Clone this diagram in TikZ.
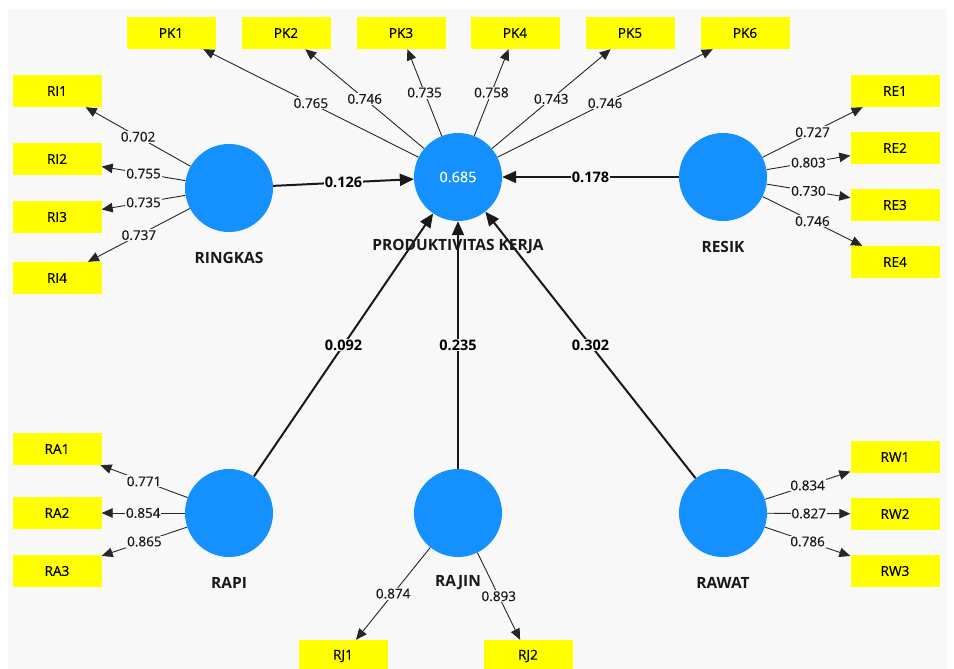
\documentclass[tikz,border=0pt]{standalone}
\usepackage{fontspec}
\setmainfont{Open Sans}
\newfontfamily\medfont[FakeBold=0.5]{Open Sans}
\usetikzlibrary{arrows.meta}
\definecolor{bg}{HTML}{F8F8F8}
\definecolor{lv}{HTML}{1590FF}
\definecolor{ind}{HTML}{FFFF00}
\begin{document}
\begin{tikzpicture}[x=1pt,y=-1pt,
  indbox/.style={fill=ind, minimum width=89pt, minimum height=32pt, inner sep=0pt, font=\medfont\fontsize{13.6}{15}\selectfont, text=black},
  latent/.style={circle, fill=lv, minimum size=88pt, inner sep=0pt},
  lvlabel/.style={font=\bfseries\fontsize{15.5}{17}\selectfont, text=black!90},
  load/.style={-{Triangle[length=11pt,width=9.5pt]}, line width=0.9pt, draw=black!85},
  pathc/.style={-{Triangle[length=14pt,width=12pt]}, line width=2pt, draw=black!90},
  lval/.style={fill=bg, inner sep=1pt, font=\medfont\fontsize{13.5}{15}\selectfont, text=black!90},
  pval/.style={fill=bg, inner sep=1pt, font=\bfseries\fontsize{14.5}{16}\selectfont, text=black}
]
\useasboundingbox (0,0) rectangle (954,669);
\fill[white] (0,0) rectangle (954,669);
\fill[bg] (8,9) rectangle (947,669);

% indicators
\node[indbox] (pk1) at (171,33) {PK1};
\node[indbox] (pk2) at (286,33) {PK2};
\node[indbox] (pk3) at (401,33) {PK3};
\node[indbox] (pk4) at (515,33) {PK4};
\node[indbox] (pk5) at (630,33) {PK5};
\node[indbox] (pk6) at (745,33) {PK6};
\node[indbox] (ri1) at (57,91) {RI1};
\node[indbox] (ri2) at (57,159) {RI2};
\node[indbox] (ri3) at (57,217) {RI3};
\node[indbox] (ri4) at (57,278) {RI4};
\node[indbox] (re1) at (895,91) {RE1};
\node[indbox] (re2) at (895,148) {RE2};
\node[indbox] (re3) at (895,205) {RE3};
\node[indbox] (re4) at (895,262) {RE4};
\node[indbox] (ra1) at (57,449) {RA1};
\node[indbox] (ra2) at (57,513) {RA2};
\node[indbox] (ra3) at (57,571) {RA3};
\node[indbox] (rw1) at (895,457) {RW1};
\node[indbox] (rw2) at (895,514) {RW2};
\node[indbox] (rw3) at (895,571) {RW3};
\node[indbox] (rj1) at (343,656) {RJ1};
\node[indbox] (rj2) at (528,656) {RJ2};

% latent variables
\node[latent] (ringkas) at (229,188) {};
\node[latent, font=\medfont\fontsize{14.5}{16}\selectfont, text=white] (pk) at (458,177) {0.685};
\node[latent] (resik) at (723,177) {};
\node[latent] (rapi) at (229,513) {};
\node[latent] (rajin) at (458,513) {};
\node[latent] (rawat) at (723,513) {};

\node[lvlabel] (lringkas) at (229,258) {RINGKAS};
\node[lvlabel] (lpk) at (458,247) {PRODUKTIVITAS KERJA};
\node[lvlabel] (lresik) at (723,247) {RESIK};
\node[lvlabel] (lrapi) at (229,583) {RAPI};
\node[lvlabel] (lrajin) at (458,583) {RAJIN};
\node[lvlabel] (lrawat) at (723,583) {RAWAT};

% outer loadings
\draw[load] (pk) -- node[lval]{0.765} (pk1);
\draw[load] (pk) -- node[lval]{0.746} (pk2);
\draw[load] (pk) -- node[lval]{0.735} (pk3);
\draw[load] (pk) -- node[lval]{0.758} (pk4);
\draw[load] (pk) -- node[lval]{0.743} (pk5);
\draw[load] (pk) -- node[lval]{0.746} (pk6);
\draw[load] (ringkas) -- node[lval]{0.702} (ri1);
\draw[load] (ringkas) -- node[lval]{0.755} (ri2);
\draw[load] (ringkas) -- node[lval]{0.735} (ri3);
\draw[load] (ringkas) -- node[lval]{0.737} (ri4);
\draw[load] (resik) -- node[lval]{0.727} (re1);
\draw[load] (resik) -- node[lval]{0.803} (re2);
\draw[load] (resik) -- node[lval]{0.730} (re3);
\draw[load] (resik) -- node[lval]{0.746} (re4);
\draw[load] (rapi) -- node[lval]{0.771} (ra1);
\draw[load] (rapi) -- node[lval]{0.854} (ra2);
\draw[load] (rapi) -- node[lval]{0.865} (ra3);
\draw[load] (rawat) -- node[lval]{0.834} (rw1);
\draw[load] (rawat) -- node[lval]{0.827} (rw2);
\draw[load] (rawat) -- node[lval]{0.786} (rw3);
\draw[load] (rajin) -- node[lval]{0.874} (rj1);
\draw[load] (rajin) -- node[lval]{0.893} (rj2);

% path coefficients
\draw[pathc] (ringkas) -- node[pval]{0.126} (pk);
\draw[pathc] (resik) -- node[pval]{0.178} (pk);
\draw[pathc] (rapi) -- node[pval]{0.092} (pk);
\draw[pathc] (rajin) -- node[pval]{0.235} (pk);
\draw[pathc] (rawat) -- node[pval]{0.302} (pk);
\end{tikzpicture}
\end{document}
